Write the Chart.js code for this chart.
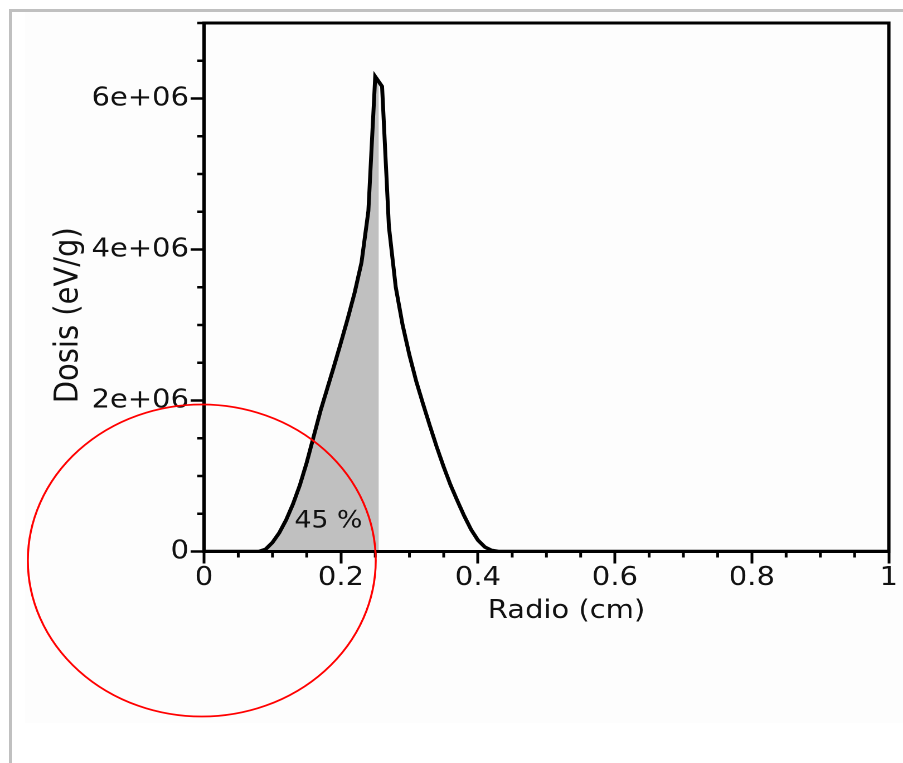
<!DOCTYPE html>
<html>
<head>
<meta charset="utf-8">
<script src="https://cdn.jsdelivr.net/npm/chart.js@4.4.0/dist/chart.umd.min.js"></script>
<style>
  html, body { margin: 0; padding: 0; background: #fff; }
  body { width: 903px; height: 763px; overflow: hidden; position: relative; }
  #frame { position: absolute; left: 9px; top: 9px; width: 900px; height: 760px;
           border-left: 3px solid #c0c0c0; border-top: 3px solid #c0c0c0; }
  #panel { position: absolute; left: 25px; top: 12px; width: 878px; height: 711px; background: #fdfdfd; }
  /* the reference is stretched horizontally (the circle is an ellipse) */
  #chart { position: absolute; left: 0; top: 0; width: 810px; height: 763px;
           transform: scaleX(1.1148); transform-origin: 0 0; }
</style>
</head>
<body>
<div id="frame"></div>
<div id="panel"></div>
<canvas id="chart" width="810" height="763"></canvas>
<script>
// DATA
const radio = [0, 0.08, 0.09, 0.10, 0.11, 0.12, 0.13, 0.14, 0.15, 0.16, 0.17, 0.18, 0.19,
  0.20, 0.21, 0.22, 0.23, 0.24, 0.25, 0.26, 0.27, 0.28, 0.29, 0.30, 0.31, 0.32, 0.33,
  0.34, 0.35, 0.36, 0.37, 0.38, 0.39, 0.40, 0.41, 0.42, 0.43, 1.0];
const dosis = [0, 0, 0.03e6, 0.12e6, 0.25e6, 0.42e6, 0.63e6, 0.88e6, 1.18e6, 1.52e6, 1.86e6, 2.16e6, 2.46e6,
  2.77e6, 3.09e6, 3.43e6, 3.83e6, 4.51e6, 6.29e6, 6.16e6, 4.30e6, 3.50e6, 3.00e6, 2.60e6, 2.25e6, 1.95e6, 1.66e6,
  1.38e6, 1.12e6, 0.88e6, 0.67e6, 0.47e6, 0.29e6, 0.15e6, 0.06e6, 0.015e6, 0, 0];
const xTicksMajor = 0.2, xTicksMinor = 0.05;
const yTicksMajor = 2e6, yTicksMinor = 0.5e6;
const fillLimit = 0.255;       // radio hasta donde se sombrea
const areaLabel = "45 %";
const areaLabelAt = [0.18, 0.4e6];
const circleRadius = 0.254;    // circulo rojo, en cm
const xTitle = "Radio (cm)";
const yTitle = "Dosis (eV/g)";

const points = radio.map((r, i) => ({ x: r, y: dosis[i] }));

const isMajor = (v, step) => Math.abs(v / step - Math.round(v / step)) < 1e-6;

Chart.defaults.font.family = "'DejaVu Sans'";
Chart.defaults.font.size = 26;
Chart.defaults.color = "#111";

// clip the grey area at fillLimit
const clipFill = {
  id: "clipFill",
  beforeDatasetsDraw(chart) {
    const ctx = chart.ctx;
    const xr = chart.scales.x.getPixelForValue(fillLimit);
    ctx.save();
    ctx.beginPath();
    ctx.rect(0, 0, xr, chart.height);
    ctx.clip();
  },
  afterDatasetDraw(chart, args) {
    if (args.index === 1) chart.ctx.restore();
  }
};

// minor ticks, frame, titles, label and red circle
const decor = {
  id: "decor",
  afterDraw(chart) {
    const { ctx, chartArea: a, scales: { x, y } } = chart;
    ctx.save();
    ctx.strokeStyle = "#000";
    ctx.lineWidth = 2.5;
    ctx.beginPath();
    x.ticks.forEach(t => {
      if (isMajor(t.value, xTicksMajor)) return;
      const px = x.getPixelForValue(t.value);
      ctx.moveTo(px, a.bottom); ctx.lineTo(px, a.bottom + 6);
    });
    y.ticks.forEach(t => {
      if (isMajor(t.value, yTicksMajor)) return;
      const py = y.getPixelForValue(t.value);
      ctx.moveTo(a.left, py); ctx.lineTo(a.left - 6, py);
    });
    ctx.stroke();

    ctx.lineWidth = 3;
    ctx.strokeRect(a.left, a.top, a.right - a.left, a.bottom - a.top);

    ctx.fillStyle = "#111";
    ctx.textAlign = "center";
    ctx.textBaseline = "middle";
    ctx.font = "26px 'DejaVu Sans'";
    ctx.fillText(xTitle, (a.left + a.right) / 2 + 18, 611);
    ctx.save();
    ctx.translate(62, (a.top + a.bottom) / 2 + 28);
    ctx.rotate(-Math.PI / 2);
    ctx.font = "29px 'DejaVu Sans'";
    ctx.fillText(yTitle, 0, 0);
    ctx.restore();

    ctx.font = "24px 'DejaVu Sans'";
    ctx.fillText(areaLabel, x.getPixelForValue(areaLabelAt[0]) + 1, y.getPixelForValue(areaLabelAt[1]));

    const cx = x.getPixelForValue(0) - 2;
    const cy = y.getPixelForValue(0) + 9;
    const r = x.getPixelForValue(circleRadius) - x.getPixelForValue(0);
    ctx.strokeStyle = "#ff0000";
    ctx.lineWidth = 1.8;
    ctx.beginPath();
    ctx.arc(cx, cy, r, 0, Math.PI * 2);
    ctx.stroke();
    ctx.restore();
  }
};

new Chart(document.getElementById("chart"), {
  type: "line",
  data: {
    datasets: [
      {
        data: points,
        borderColor: "#000",
        borderWidth: 3.5,
        borderJoinStyle: "miter",
        pointRadius: 0,
        tension: 0,
        fill: false,
        order: 1
      },
      {
        data: points,
        borderWidth: 0,
        backgroundColor: "#c0c0c0",
        pointRadius: 0,
        tension: 0,
        fill: "origin",
        order: 2
      }
    ]
  },
  options: {
    responsive: false,
    animation: false,
    devicePixelRatio: 2,
    events: [],
    layout: { autoPadding: false, padding: { left: 0, right: 12.7, top: 23, bottom: 131.5 } },
    plugins: { legend: { display: false }, tooltip: { enabled: false } },
    scales: {
      x: {
        type: "linear",
        min: 0,
        max: 1,
        afterFit: s => { s.height = 80; },
        border: { display: true, color: "#000", width: 3 },
        grid: {
          drawOnChartArea: false,
          drawTicks: true,
          tickLength: 12,
          tickWidth: 2.5,
          tickColor: c => isMajor(c.tick.value, xTicksMajor) ? "#000" : "rgba(0,0,0,0)"
        },
        ticks: {
          stepSize: xTicksMinor,
          autoSkip: false,
          maxRotation: 0,
          padding: -1,
          callback: v => isMajor(v, xTicksMajor) ? String(Math.round(v * 10) / 10) : ""
        }
      },
      y: {
        min: 0,
        max: 7e6,
        afterFit: s => { s.width = 183; },
        border: { display: true, color: "#000", width: 3 },
        grid: {
          drawOnChartArea: false,
          drawTicks: true,
          tickLength: 12,
          tickWidth: 2.5,
          tickColor: c => isMajor(c.tick.value, yTicksMajor) ? "#000" : "rgba(0,0,0,0)"
        },
        ticks: {
          stepSize: yTicksMinor,
          autoSkip: false,
          padding: 1.5,
          callback: v => isMajor(v, yTicksMajor) ? (v === 0 ? "0" : (v / 1e6) + "e+06") : ""
        }
      }
    }
  },
  plugins: [clipFill, decor]
});
</script>
</body>
</html>
